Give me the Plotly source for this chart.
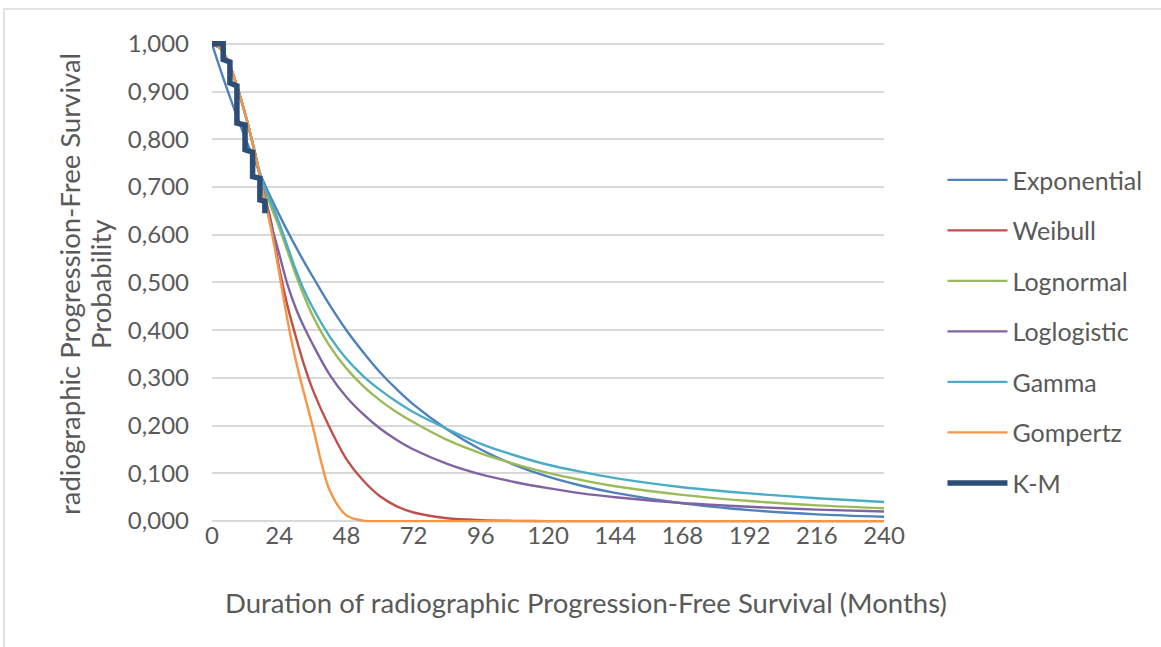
import plotly.graph_objects as go

# ---- data ----
months = [0, 3, 6, 9, 12, 15, 18, 21, 24, 27, 30, 33, 36, 42, 48, 54, 60, 66, 72,
          84, 96, 108, 120, 132, 144, 168, 192, 216, 240]

exponential = [1.0, 0.946, 0.895, 0.847, 0.801, 0.758, 0.717, 0.678, 0.642, 0.607, 0.574,
               0.542, 0.512, 0.453, 0.400, 0.354, 0.312, 0.276, 0.244, 0.192, 0.150, 0.118,
               0.093, 0.074, 0.059, 0.037, 0.023, 0.014, 0.009]
weibull = [1.0, 0.99, 0.96, 0.91, 0.85, 0.78, 0.70, 0.63, 0.53, 0.45, 0.385, 0.325, 0.275,
           0.196, 0.13, 0.085, 0.052, 0.031, 0.018, 0.006, 0.002, 0.0005, 0.0, 0.0, 0.0,
           0.0, 0.0, 0.0, 0.0]
lognormal = [1.0, 0.99, 0.96, 0.91, 0.85, 0.78, 0.71, 0.66, 0.615, 0.565, 0.515, 0.47, 0.43,
             0.367, 0.32, 0.283, 0.253, 0.228, 0.207, 0.17, 0.142, 0.12, 0.101, 0.086,
             0.073, 0.055, 0.042, 0.033, 0.027]
loglogistic = [1.0, 0.99, 0.96, 0.91, 0.85, 0.78, 0.70, 0.625, 0.56, 0.495, 0.445, 0.405,
               0.37, 0.307, 0.26, 0.224, 0.194, 0.17, 0.15, 0.12, 0.098, 0.082, 0.069,
               0.058, 0.05, 0.038, 0.03, 0.024, 0.020]
gamma = [1.0, 0.99, 0.96, 0.91, 0.85, 0.78, 0.71, 0.67, 0.625, 0.575, 0.525, 0.482, 0.447,
         0.387, 0.34, 0.304, 0.275, 0.25, 0.228, 0.193, 0.162, 0.138, 0.118, 0.103, 0.09,
         0.071, 0.058, 0.048, 0.040]
gompertz = [1.0, 0.99, 0.96, 0.91, 0.85, 0.78, 0.695, 0.615, 0.52, 0.42, 0.335, 0.265, 0.198,
            0.065, 0.012, 0.001, 0.0, 0.0, 0.0, 0.0, 0.0, 0.0, 0.0, 0.0, 0.0, 0.0, 0.0,
            0.0, 0.0]

km_months = [0, 4, 4, 6.4, 6.4, 8.9, 8.9, 11.8, 11.8, 14.5, 14.5, 17.1, 17.1, 18.9, 18.9]
km_surv = [1.0, 1.0, 0.967, 0.962, 0.918, 0.912, 0.834, 0.830, 0.778, 0.773, 0.722, 0.718,
           0.673, 0.670, 0.645]

x_ticks = [0, 24, 48, 72, 96, 120, 144, 168, 192, 216, 240]
y_ticks = [0.0, 0.1, 0.2, 0.3, 0.4, 0.5, 0.6, 0.7, 0.8, 0.9, 1.0]
y_tick_labels = ["0,000", "0,100", "0,200", "0,300", "0,400", "0,500", "0,600", "0,700",
                 "0,800", "0,900", "1,000"]

series = [
    ("Exponential", exponential, "#4F81BD"),
    ("Weibull", weibull, "#C0504D"),
    ("Lognormal", lognormal, "#9BBB59"),
    ("Loglogistic", loglogistic, "#8064A2"),
    ("Gamma", gamma, "#4BACC6"),
    ("Gompertz", gompertz, "#F79646"),
]

FONT = "Lato, 'Open Sans', sans-serif"
TXT = "#595959"

fig = go.Figure()
for name, vals, col in series:
    fig.add_trace(go.Scatter(x=months, y=vals, name=name, mode="lines", legendgroup=name,
                             line=dict(color=col, width=2.4, shape="spline", smoothing=0.9)))
fig.add_trace(go.Scatter(x=km_months, y=km_surv, name="K-M", mode="lines", legendgroup="KM",
                         line=dict(color="#2C4D75", width=5.5)))

fig.update_layout(
    width=1161, height=647,
    margin=dict(l=212, r=277, t=41, b=124),
    paper_bgcolor="white", plot_bgcolor="white",
    font=dict(family=FONT, size=24, color=TXT),
    showlegend=True,
    legend=dict(x=1.087, xanchor="left", y=0.397, yanchor="middle",
                font=dict(family=FONT, size=25, color=TXT),
                tracegroupgap=15, itemwidth=60, bgcolor="rgba(0,0,0,0)"),
    xaxis=dict(range=[0, 240], tickvals=x_ticks, showgrid=False, zeroline=False,
               showline=False, ticks="", ticklabelstandoff=-4,
               tickfont=dict(size=24, color=TXT)),
    yaxis=dict(range=[-0.004, 1.006], tickvals=y_ticks, ticktext=y_tick_labels,
               showgrid=True, gridcolor="#D9D9D9", gridwidth=1.5, zeroline=False,
               showline=False, ticks="", ticklabelstandoff=22,
               tickfont=dict(size=24, color=TXT)),
    annotations=[
        dict(text="Duration of radiographic Progression-Free Survival (Months)",
             xref="paper", yref="paper", x=(586 - 212) / 672, y=(523 - 602) / 482,
             xanchor="center", yanchor="middle", showarrow=False,
             font=dict(family=FONT, size=27.5, color=TXT)),
        dict(text="radiographic Progression-Free Survival",
             xref="paper", yref="paper", x=(69 - 212) / 672, y=(523 - 284) / 482,
             xanchor="center", yanchor="middle", textangle=-90, showarrow=False,
             font=dict(family=FONT, size=27.5, color=TXT)),
        dict(text="Probability",
             xref="paper", yref="paper", x=(100 - 212) / 672, y=(523 - 284) / 482,
             xanchor="center", yanchor="middle", textangle=-90, showarrow=False,
             font=dict(family=FONT, size=27.5, color=TXT)),
    ],
    shapes=[
        dict(type="rect", xref="paper", yref="paper",
             x0=(4 - 212) / 672, x1=(1170 - 212) / 672,
             y0=(523 - 660) / 482, y1=(523 - 9) / 482,
             line=dict(color="#D9D9D9", width=1.5), fillcolor="rgba(0,0,0,0)", layer="below"),
    ],
)

fig.write_html("out.html")
